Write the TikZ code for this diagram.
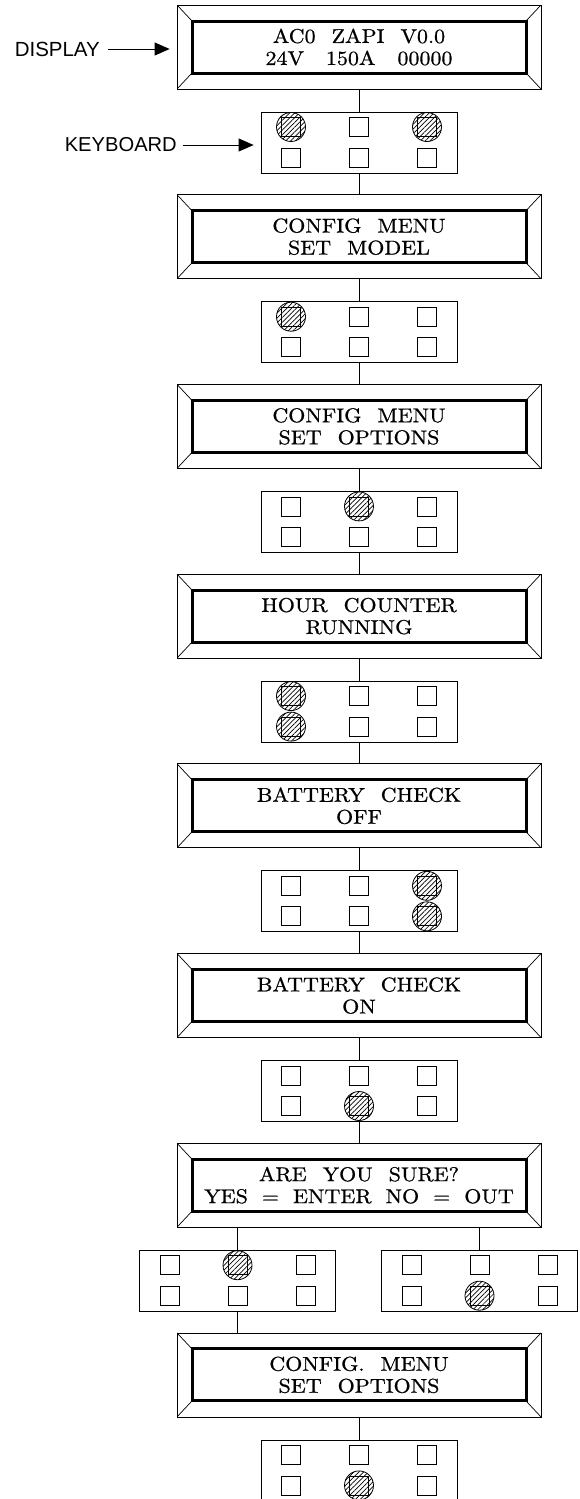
\documentclass[tikz,border=0pt]{standalone}
\usepackage{fontspec}
\usetikzlibrary{arrows.meta,patterns.meta}
\newfontfamily\lblfont{Liberation Sans}
\newfontfamily\dispfont[FakeStretch=1.1,FakeBold=0.8]{lmroman10-regular.otf}
\newcommand\DW{\hspace{16pt}}
\newcommand\DN{\hspace{14pt}}
\newcommand\DX{\hspace{22pt}}
\newcommand\DLines[2]{#1\\#2}
\tikzset{
  display/.style={draw, line width=0.8pt, minimum width=364pt, minimum height=84pt,
    inner sep=0pt, align=center, font=\dispfont\fontsize{20}{22}\selectfont,
    path picture={
      \path (path picture bounding box.north west) coordinate (PPnw)
            (path picture bounding box.north east) coordinate (PPne)
            (path picture bounding box.south west) coordinate (PPsw)
            (path picture bounding box.south east) coordinate (PPse);
      \draw[line width=3pt] ([shift={(15pt,-16pt)}]PPnw) rectangle ([shift={(-15pt,16pt)}]PPse);
      \draw[line width=0.7pt] (PPnw) -- ++(15pt,-16pt) (PPne) -- ++(-15pt,-16pt)
            (PPsw) -- ++(15pt,16pt) (PPse) -- ++(-15pt,16pt);
    }},
  keyboard/.style={draw, line width=0.8pt, minimum width=196pt, minimum height=61pt, inner sep=0pt},
  keysq/.style={draw, line width=0.8pt, minimum size=19pt, inner sep=0pt},
  pressed/.style={circle, draw, line width=0.8pt, minimum size=29pt, inner sep=0pt,
    pattern={Lines[angle=45,distance=3.4pt,line width=0.7pt]}},
  conn/.style={line width=0.8pt},
  lbl/.style={inner sep=0pt, font=\lblfont\fontsize{18}{20}\selectfont},
  arr/.style={line width=0.8pt, -{Triangle[length=15pt,width=13pt]}}
}
\newcommand\KeyPad[4]{%
  \node[keyboard] (#1) at (#2,#3) {};
  \foreach \i in {#4} {
    \pgfmathsetmacro\cx{{-68,0,68,-68,0,68}[\i-1]}
    \pgfmathsetmacro\cy{{-15.5,-15.5,-15.5,15,15,15}[\i-1]}
    \node[pressed] (#1-p\i) at ({#2+\cx},{#3+\cy}) {};
  }
  \foreach \i in {1,...,6} {
    \pgfmathsetmacro\cx{{-68,0,68,-68,0,68}[\i-1]}
    \pgfmathsetmacro\cy{{-15.5,-15.5,-15.5,15,15,15}[\i-1]}
    \node[keysq] (#1-k\i) at ({#2+\cx},{#3+\cy}) {};
  }
}
\begin{document}
\begin{tikzpicture}[x=1pt,y=-1pt]
\useasboundingbox (0,0) rectangle (580,1499);
% displays
\node[display] (d1) at (359,47) {\DLines{AC0\DW ZAPI\DW V0.0}{24V\DX 150A\DX 00000}};
\node[display] (d2) at (359,236.7) {\DLines{CONFIG\DW MENU}{SET\DW MODEL}};
\node[display] (d3) at (359,426.4) {\DLines{CONFIG\DW MENU}{SET\DW OPTIONS}};
\node[display] (d4) at (359,616.1) {\DLines{HOUR\DW COUNTER}{RUNNING}};
\node[display] (d5) at (359,805.8) {\DLines{BATTERY\DW CHECK}{OFF}};
\node[display] (d6) at (359,995.5) {\DLines{BATTERY\DW CHECK}{ON}};
\node[display] (d7) at (359,1185.2) {\DLines{ARE\DW YOU\DW SURE?}{YES\DN =\DN ENTER\DN NO\DN =\DN OUT}};
\node[display] (d8) at (359,1374.9) {\DLines{CONFIG.\DW MENU}{SET\DW OPTIONS}};
% keyboards
\KeyPad{kb1}{359}{142.5}{1,3}
\KeyPad{kb2}{359}{332.2}{1}
\KeyPad{kb3}{359}{521.9}{2}
\KeyPad{kb4}{359}{711.6}{1,4}
\KeyPad{kb5}{359}{901.3}{3,6}
\KeyPad{kb6}{359}{1091}{5}
\KeyPad{kbl}{237.5}{1280.7}{2}
\KeyPad{kbr}{479.5}{1280.7}{5}
\KeyPad{kb8}{359}{1470.4}{5}
% connectors
\draw[conn] (d1) -- (kb1);
\draw[conn] (kb1) -- (d2);
\draw[conn] (d2) -- (kb2);
\draw[conn] (kb2) -- (d3);
\draw[conn] (d3) -- (kb3);
\draw[conn] (kb3) -- (d4);
\draw[conn] (d4) -- (kb4);
\draw[conn] (kb4) -- (d5);
\draw[conn] (d5) -- (kb5);
\draw[conn] (kb5) -- (d6);
\draw[conn] (d6) -- (kb6);
\draw[conn] (kb6) -- (d7);
\draw[conn] (d7.south -| kbl.north) -- (kbl.north);
\draw[conn] (d7.south -| kbr.north) -- (kbr.north);
\draw[conn] (kbl.south) -- (kbl.south |- d8.north);
\draw[conn] (d8) -- (kb8);
% labels
\node[lbl, anchor=east] (lblD) at (100,49) {\resizebox{85pt}{!}{DISPLAY}};
\node[lbl, anchor=east] (lblK) at (177,145) {\resizebox{112pt}{!}{KEYBOARD}};
\draw[arr, shorten <=8pt, shorten >=7pt] (lblD.east) -- (lblD.east -| d1.west);
\draw[arr, shorten <=6pt, shorten >=7pt] (lblK.east) -- (lblK.east -| kb1.west);
\end{tikzpicture}
\end{document}
